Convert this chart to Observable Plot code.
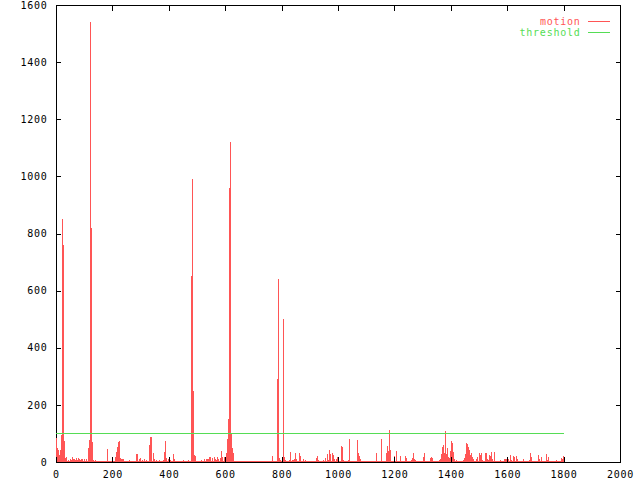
<!DOCTYPE html>
<html><head><meta charset="utf-8">
<script src="https://cdn.jsdelivr.net/npm/d3@7"></script>
<script src="https://cdn.jsdelivr.net/npm/@observablehq/plot@0.6"></script>
<style>body{margin:0;background:#fff} svg text{letter-spacing:0.75px}</style>
</head><body><div id="chart"></div>
<script>
// motion value per sample (one sample every frameStep frames)
const motion = [
  84,48,42,24,42,94,850,760,74,13,
  19,3,7,3,9,7,16,9,12,7,
  13,7,13,9,7,12,12,5,12,3,
  12,3,48,77,1540,820,71,7,3,7,
  3,5,3,3,3,3,3,3,3,3,
  3,45,3,3,3,5,5,3,3,19,
  36,53,69,73,14,12,9,12,3,3,
  5,3,3,7,3,3,3,3,3,3,
  28,28,3,12,13,3,7,3,9,3,
  7,3,3,59,86,86,3,33,9,3,
  7,3,3,7,3,3,3,7,36,73,
  13,3,9,3,7,3,3,28,12,3,
  3,5,3,3,3,3,3,7,3,3,
  3,3,7,3,3,650,990,250,24,21,
  3,3,3,3,3,7,3,3,12,3,
  9,12,9,19,16,3,13,3,16,9,
  7,19,12,3,13,38,19,3,16,3,
  30,79,150,960,1120,100,48,33,3,3,
  3,3,3,3,3,3,3,3,3,3,
  5,3,3,3,3,3,3,3,3,3,
  3,3,3,3,3,3,3,3,3,3,
  3,3,3,3,3,3,21,3,3,3,
  5,290,640,13,7,3,3,500,16,7,
  3,3,3,7,36,3,7,7,9,33,
  9,3,3,33,21,3,3,12,3,7,
  3,3,3,3,3,3,3,3,3,3,
  13,21,7,3,3,3,3,7,3,13,
  3,28,7,42,28,3,33,24,9,3,
  9,16,3,3,3,56,51,7,3,3,
  3,3,7,80,3,3,3,3,3,3,
  3,77,33,21,12,3,3,3,3,3,
  3,3,3,3,3,3,3,3,3,3,
  33,3,3,3,3,80,3,3,3,3,
  33,56,40,112,42,3,3,3,21,3,
  40,3,3,3,21,3,3,3,3,21,
  13,3,3,3,3,7,13,33,12,7,
  3,3,3,3,3,3,3,16,33,3,
  3,3,3,3,13,19,13,3,3,3,
  3,3,3,7,12,27,53,59,30,108,
  28,48,19,13,40,73,65,36,9,3,
  7,3,3,3,3,3,3,7,13,28,
  67,63,53,42,24,33,19,9,3,3,
  9,16,3,30,24,33,7,3,3,33,
  30,9,7,24,21,36,9,3,36,3,
  3,3,3,3,7,3,3,3,12,12,
  12,12,9,3,24,7,3,21,16,3,
  21,9,3,3,3,3,3,12,3,3,
  3,3,3,7,33,16,3,3,3,3,
  3,3,24,9,3,16,3,3,3,3,
  28,7,16,3,3,3,3,3,3,3,
  7,3,3,3,3,13,9,21
];
const frameStep = 2000 / 564;
const thresholdValue = 100;
const thresholdFrames = [0, 1800];
const xTicks = [0, 200, 400, 600, 800, 1000, 1200, 1400, 1600, 1800, 2000];
const yTicks = [0, 200, 400, 600, 800, 1000, 1200, 1400, 1600];
const seriesNames = ["motion", "threshold"];
const seriesColors = ["#ff5555", "#55dd55"];

const bars = motion.map((v, i) => ({x1: i * frameStep, x2: (i + 1) * frameStep, y: v}));
const thresholdData = thresholdFrames.map(x => ({x, y: thresholdValue}));
const font = "DejaVu Sans Mono";
const fmt = d => String(d);

const chart = Plot.plot({
  width: 640, height: 480,
  marginLeft: 56, marginRight: 20, marginTop: 5, marginBottom: 18,
  x: {domain: [0, 2000], axis: null},
  y: {domain: [0, 1600], axis: null},
  style: {fontFamily: font, fontSize: "10px", background: "white", color: "black"},
  marks: [
    Plot.frame({stroke: "black", shapeRendering: "crispEdges"}),
    Plot.rectY(bars, {x1: "x1", x2: "x2", y1: 0, y2: "y", fill: seriesColors[0], shapeRendering: "crispEdges"}),
    Plot.line(thresholdData, {x: "x", y: "y", stroke: seriesColors[1], strokeWidth: 1, shapeRendering: "crispEdges"}),
    Plot.axisX(xTicks, {anchor: "bottom", tickSize: 5, dy: -5, fill: "none", label: null, shapeRendering: "crispEdges"}),
    Plot.axisX(xTicks, {anchor: "top", tickSize: 5, dy: 5, fill: "none", label: null, shapeRendering: "crispEdges"}),
    Plot.axisY(yTicks, {anchor: "left", tickSize: 5, dx: 5, fill: "none", label: null, shapeRendering: "crispEdges"}),
    Plot.axisY(yTicks, {anchor: "right", tickSize: 5, dx: -5, fill: "none", label: null, shapeRendering: "crispEdges"}),
    Plot.axisX(xTicks, {anchor: "bottom", tickSize: 0, tickPadding: 8, label: null, tickFormat: fmt, fontFamily: font, fontSize: 10}),
    Plot.axisY(yTicks, {anchor: "left", tickSize: 0, tickPadding: 9, label: null, tickFormat: fmt, fontFamily: font, fontSize: 10}),
    Plot.text([seriesNames[0]], {text: d => d, frameAnchor: "top-right", dx: -40, dy: 12.5, textAnchor: "end", fill: seriesColors[0], fontFamily: font, fontSize: 10}),
    Plot.text([seriesNames[1]], {text: d => d, frameAnchor: "top-right", dx: -40, dy: 23.5, textAnchor: "end", fill: seriesColors[1], fontFamily: font, fontSize: 10})
  ]
});
// legend line samples
const svg = d3.select(chart);
[[16, seriesColors[0]], [27, seriesColors[1]]].forEach(([dy, c]) => {
  svg.append("line").attr("x1", 588).attr("x2", 610).attr("y1", 5 + dy + 0.5).attr("y2", 5 + dy + 0.5)
    .attr("stroke", c).attr("stroke-width", 1).attr("shape-rendering", "crispEdges");
});
document.getElementById("chart").append(chart);
</script>
</body></html>
